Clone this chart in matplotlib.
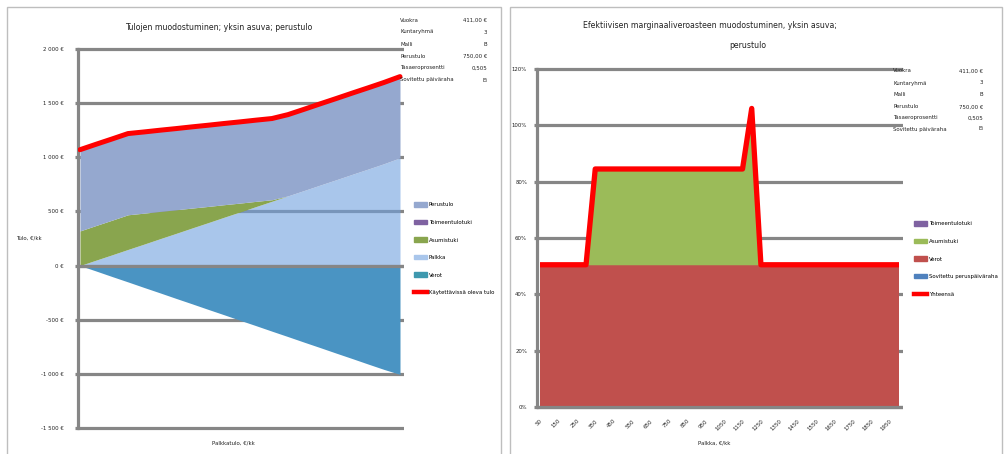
import matplotlib
matplotlib.use("Agg")
import matplotlib.pyplot as plt
from matplotlib import font_manager as fm
import numpy as np
from matplotlib.patches import Patch, Rectangle
from matplotlib.lines import Line2D

# prefer a narrow face when one is installed
_names = {f.name for f in fm.fontManager.ttflist}
_narrow = [n for n in ['Liberation Sans Narrow', 'DejaVu Sans Condensed']
           if n in _names]
plt.rcParams['font.family'] = _narrow + ['DejaVu Sans']
plt.rcParams['font.stretch'] = 'condensed'

# ---------------- data: income composition ----------------
wage_left = [0, 100, 200, 300, 400, 500, 600, 700, 800, 900, 1000,
             1100, 1200, 1300, 1400, 1500, 1600, 1700, 1800, 1900, 2000]
verot_left = [0, -50, -101, -151, -202, -252, -303, -353, -404, -454, -505,
              -555, -606, -656, -707, -757, -808, -858, -909, -959, -1005]
asumistuki_left = [320, 320, 320, 320, 286, 252, 218, 184, 150, 116, 82,
                   48, 14, 0, 0, 0, 0, 0, 0, 0, 0]
toimeentulotuki_left = [0, 0, 0, 0, 0, 0, 0, 0, 0, 0, 0,
                        0, 0, 0, 0, 0, 0, 0, 0, 0, 0]
perustulo_left = [750, 750, 750, 750, 750, 750, 750, 750, 750, 750, 750,
                  750, 750, 750, 750, 750, 750, 750, 750, 750, 750]
yticks_left = [-1500, -1000, -500, 0, 500, 1000, 1500, 2000]
yticklabels_left = ['-1 500 €', '-1 000 €', '-500 €', '0 €', '500 €',
                    '1 000 €', '1 500 €', '2 000 €']

# ---------------- data: effective marginal tax rate ----------------
wage_right = [50, 100, 150, 200, 250, 300, 350, 400, 450, 500,
              550, 600, 650, 700, 750, 800, 850, 900, 950, 1000,
              1050, 1100, 1150, 1200, 1250, 1300, 1350, 1400, 1450, 1500,
              1550, 1600, 1650, 1700, 1750, 1800, 1850, 1900, 1950, 2000]
verot_right = [50.5, 50.5, 50.5, 50.5, 50.5, 50.5, 50.5, 50.5, 50.5, 50.5,
               50.5, 50.5, 50.5, 50.5, 50.5, 50.5, 50.5, 50.5, 50.5, 50.5,
               50.5, 50.5, 50.5, 50.5, 50.5, 50.5, 50.5, 50.5, 50.5, 50.5,
               50.5, 50.5, 50.5, 50.5, 50.5, 50.5, 50.5, 50.5, 50.5, 50.5]
asumistuki_right = [0, 0, 0, 0, 0, 0, 34, 34, 34, 34,
                    34, 34, 34, 34, 34, 34, 34, 34, 34, 34,
                    34, 34, 34, 55.5, 0, 0, 0, 0, 0, 0,
                    0, 0, 0, 0, 0, 0, 0, 0, 0, 0]
toimeentulotuki_right = [0] * 40
peruspaivaraha_right = [0] * 40
xticklabels_right = ['50', '150', '250', '350', '450', '550', '650', '750',
                     '850', '950', '1050', '1150', '1250', '1350', '1450',
                     '1550', '1650', '1750', '1850', '1950']
yticks_right = [0, 20, 40, 60, 80, 100, 120]
yticklabels_right = ['0%', '20%', '40%', '60%', '80%', '100%', '120%']

info_labels = ['Vuokra', 'Kuntaryhmä', 'Malli', 'Perustulo',
               'Tasaeroprosentti', 'Sovitettu päiväraha']
info_values = ['411,00 €', '3', 'B', '750,00 €', '0,505', 'Ei']

# ---------------- styles ----------------
GRID = '#868686'
RED = '#FF0000'
TXT = '#222222'
C_PERUS = '#95A8CF'
C_TOIM = '#7F62A1'
C_ASUM_L = '#89A54E'
C_PALKKA = '#A9C6EB'
C_PALKKA_FILL = '#70A0DE'
C_VEROT_L = '#4A94C3'
C_VEROT_LEG = '#3E98AE'
C_ASUM_R = '#9BBB59'
C_VEROT_R = '#C0504D'
C_PERUSPV = '#4F81BD'

W, H = 1005, 454
fig = plt.figure(figsize=(W / 100, H / 100), dpi=100)


def px_axes(x0, y0, x1, y1):
    return fig.add_axes([x0 / W, 1 - y1 / H, (x1 - x0) / W, (y1 - y0) / H])


def fx(x):
    return x / W


def fy(y):
    return 1 - y / H


# chart frames
for (x0, x1) in [(7, 501), (510, 1002)]:
    fig.add_artist(Rectangle((fx(x0), fy(470)), fx(x1 - x0), (470 - 7) / H,
                             transform=fig.transFigure, fill=False,
                             edgecolor='#BEBEBE', linewidth=1.0))

LW_GRID = 2.3
TICK_FS = 4.3
TITLE_FS = 6.2

# =============== left chart ===============
axL = px_axes(78, 46, 404, 431)
wl = np.array(wage_left, dtype=float)
tax = np.array(verot_left, dtype=float)
net = wl + tax
asum = np.array(asumistuki_left, dtype=float)
toim = np.array(toimeentulotuki_left, dtype=float)
perus = np.array(perustulo_left, dtype=float)
lvl1 = net
lvl2 = lvl1 + asum
lvl3 = lvl2 + toim
lvl4 = lvl3 + perus

axL.fill_between(wl, 0, tax, color=C_VEROT_L, linewidth=0, zorder=2)
axL.fill_between(wl, 0, lvl1, color=C_PALKKA_FILL, alpha=0.6, linewidth=0, zorder=2)
axL.fill_between(wl, lvl1, lvl2, color=C_ASUM_L, linewidth=0, zorder=2)
axL.fill_between(wl, lvl2, lvl3, color=C_TOIM, linewidth=0, zorder=2)
axL.fill_between(wl, lvl3, lvl4, color=C_PERUS, linewidth=0, zorder=2)
axL.axhline(0, color=GRID, linewidth=LW_GRID, zorder=4)
axL.plot(wl, lvl4, color=RED, linewidth=3.6, solid_joinstyle='round',
         solid_capstyle='round', zorder=5)

spx = 320 / 2000
axL.set_xlim(-2 / spx, 2000 + 4 / spx)
spy = 379 / 3500
axL.set_ylim(-1500 - 3 / spy, 2000 + 3 / spy)
axL.set_yticks(yticks_left)
axL.set_yticklabels(yticklabels_left)
axL.set_xticks([])
axL.set_axisbelow(True)
axL.yaxis.grid(True, color=GRID, linewidth=LW_GRID)
axL.tick_params(axis='y', length=2.2, width=LW_GRID, color=GRID,
                labelsize=TICK_FS, pad=8, labelcolor=TXT)
for s in ['top', 'right', 'bottom']:
    axL.spines[s].set_visible(False)
axL.spines['left'].set_color(GRID)
axL.spines['left'].set_linewidth(LW_GRID)
axL.spines['left'].set_bounds(-1500, 2000)
axL.patch.set_alpha(0)

fig.text(fx(219), fy(27), 'Tulojen muodostuminen; yksin asuva; perustulo',
         ha='center', va='center', fontsize=TITLE_FS, color=TXT)
fig.text(fx(16), fy(238), 'Tulo, €/kk', ha='left', va='center',
         fontsize=TICK_FS, color=TXT)
fig.text(fx(233), fy(443), 'Palkkatulo, €/kk', ha='center', va='center',
         fontsize=TICK_FS, color=TXT)

handlesL = [Patch(color=C_PERUS), Patch(color=C_TOIM), Patch(color=C_ASUM_L),
            Patch(color=C_PALKKA), Patch(color=C_VEROT_LEG),
            Line2D([], [], color=RED, linewidth=3.2)]
labelsL = ['Perustulo', 'Toimeentulotuki', 'Asumistuki', 'Palkka', 'Verot',
           'Käytettävissä oleva tulo']
fig.legend(handlesL, labelsL, loc='upper left',
           bbox_to_anchor=(fx(414), fy(202)), bbox_transform=fig.transFigure,
           frameon=False, fontsize=TICK_FS, handlelength=2.15, handleheight=0.8,
           handletextpad=0.3, labelspacing=2.05, borderpad=0, borderaxespad=0)

# =============== right chart ===============
axR = px_axes(537, 66, 903, 410)
xi = np.arange(len(wage_right))
v = np.array(verot_right, dtype=float)
a = np.array(asumistuki_right, dtype=float)
t = np.array(toimeentulotuki_right, dtype=float)
p = np.array(peruspaivaraha_right, dtype=float)
r1 = v
r2 = r1 + a
r3 = r2 + t
r4 = r3 + p
axR.fill_between(xi, 0, r1, color=C_VEROT_R, linewidth=0, zorder=2)
axR.fill_between(xi, r1, r2, color=C_ASUM_R, linewidth=0, zorder=2)
axR.fill_between(xi, r2, r3, color=C_TOIM, linewidth=0, zorder=2)
axR.fill_between(xi, r3, r4, color=C_PERUSPV, linewidth=0, zorder=2)
axR.axhline(0, color=GRID, linewidth=LW_GRID, zorder=4)
axR.plot(xi, r4, color=RED, linewidth=3.8, solid_joinstyle='round',
         solid_capstyle='butt', zorder=5)

sxr = 359 / 39
axR.set_xlim(-3 / sxr, 39 + 4 / sxr)
syr = 338 / 120
axR.set_ylim(-3 / syr, 120 + 3 / syr)
axR.set_yticks(yticks_right)
axR.set_yticklabels(yticklabels_right)
axR.set_xticks(xi[::2])
axR.set_xticklabels(xticklabels_right, rotation=45, ha='right', va='top',
                    rotation_mode='anchor')
axR.set_axisbelow(True)
axR.yaxis.grid(True, color=GRID, linewidth=LW_GRID)
axR.tick_params(axis='y', length=2.2, width=LW_GRID, color=GRID,
                labelsize=TICK_FS, pad=5, labelcolor=TXT)
axR.tick_params(axis='x', length=0, labelsize=TICK_FS, pad=6,
                labelcolor=TXT)
for s in ['top', 'right', 'bottom']:
    axR.spines[s].set_visible(False)
axR.spines['left'].set_color(GRID)
axR.spines['left'].set_linewidth(LW_GRID)
axR.spines['left'].set_bounds(0, 120)
axR.patch.set_alpha(0)

fig.text(fx(710), fy(26),
         'Efektiivisen marginaaliveroasteen muodostuminen, yksin asuva;',
         ha='center', va='center', fontsize=TITLE_FS, color=TXT)
fig.text(fx(748), fy(45), 'perustulo', ha='center', va='center',
         fontsize=TITLE_FS, color=TXT)
fig.text(fx(714), fy(443), 'Palkka, €/kk', ha='center', va='center',
         fontsize=TICK_FS, color=TXT)

handlesR = [Patch(color=C_TOIM), Patch(color=C_ASUM_R), Patch(color=C_VEROT_R),
            Patch(color=C_PERUSPV), Line2D([], [], color=RED, linewidth=3.2)]
labelsR = ['Toimeentulotuki', 'Asumistuki', 'Verot',
           'Sovitettu peruspäiväraha', 'Yhteensä']
fig.legend(handlesR, labelsR, loc='upper left',
           bbox_to_anchor=(fx(914), fy(221)), bbox_transform=fig.transFigure,
           frameon=False, fontsize=TICK_FS, handlelength=2.15, handleheight=0.8,
           handletextpad=0.3, labelspacing=2.05, borderpad=0, borderaxespad=0)

# parameter tables
rows_left = [20, 32, 44, 56, 68, 80]
rows_right = [71, 83, 95, 107, 118, 129]
for lab, val, yl, yr in zip(info_labels, info_values, rows_left, rows_right):
    fig.text(fx(400), fy(yl), lab, ha='left', va='center', fontsize=TICK_FS,
             color=TXT)
    fig.text(fx(487), fy(yl), val, ha='right', va='center', fontsize=TICK_FS,
             color=TXT)
    fig.text(fx(893), fy(yr), lab, ha='left', va='center', fontsize=TICK_FS,
             color=TXT)
    fig.text(fx(983), fy(yr), val, ha='right', va='center', fontsize=TICK_FS,
             color=TXT)

fig.savefig('out.png', dpi=100, facecolor='white')
